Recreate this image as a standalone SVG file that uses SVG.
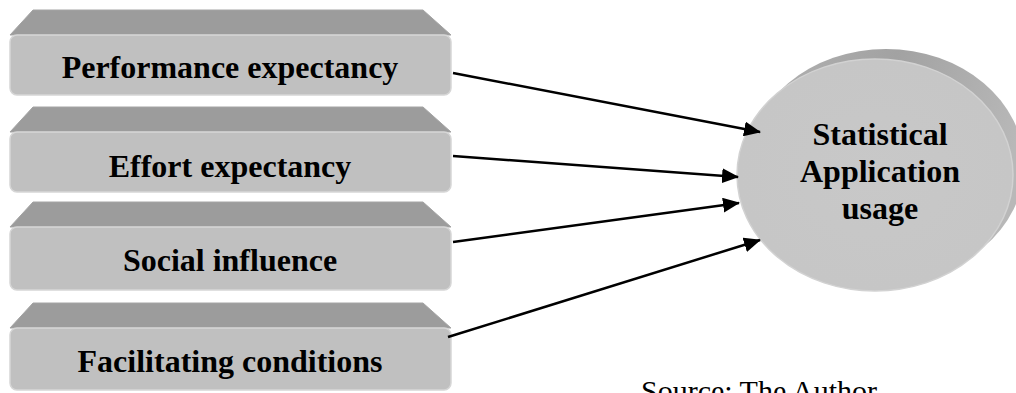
<svg xmlns="http://www.w3.org/2000/svg" width="1016" height="393" viewBox="0 0 1016 393">
  <style>
    .bevel { fill: #9c9c9c; stroke: #a4a4a4; stroke-width: 1; stroke-linejoin: round; }
    .face { fill: #c0c0c0; stroke: #d6d6d6; stroke-width: 1.5; }
    .lbl { font-family: "Liberation Serif", "Times New Roman", serif; font-weight: bold; font-size: 32px; fill: #000; text-anchor: middle; }
    .src { font-family: "Liberation Serif", "Times New Roman", serif; font-size: 30px; fill: #000; }
    .conn { stroke: #000; stroke-width: 2.5; fill: none; marker-end: url(#arrow); }
  </style>
  <defs>
    <marker id="arrow" markerUnits="userSpaceOnUse" markerWidth="17" markerHeight="15" refX="16" refY="7.5" orient="auto">
      <path d="M0,0 L17,7.5 L0,15 z" fill="#000"/>
    </marker>
    <linearGradient id="cylside" x1="0" y1="0" x2="1" y2="0.3">
      <stop offset="0" stop-color="#b4b4b4"/>
      <stop offset="0.5" stop-color="#a2a2a2"/>
      <stop offset="1" stop-color="#b8b8b8"/>
    </linearGradient>
    <radialGradient id="cylface" cx="0.5" cy="0.5" r="0.55">
      <stop offset="0" stop-color="#c8c8c8"/>
      <stop offset="0.9" stop-color="#c6c6c6"/>
      <stop offset="1" stop-color="#bdbdbd"/>
    </radialGradient>
  </defs>

  <g id="node-performance">
    <path class="bevel" d="M33,10 L423,10 L451,35 L10,35 Z"/>
    <rect class="face" x="10" y="35" width="441" height="60" rx="7"/>
    <text class="lbl" x="230" y="78">Performance expectancy</text>
  </g>

  <g id="node-effort">
    <path class="bevel" d="M33,107 L423,107 L451,132 L10,132 Z"/>
    <rect class="face" x="10" y="132" width="441" height="60" rx="7"/>
    <text class="lbl" x="230" y="177">Effort expectancy</text>
  </g>

  <g id="node-social">
    <path class="bevel" d="M33,202 L423,202 L451,227 L10,227 Z"/>
    <rect class="face" x="10" y="227" width="441" height="63" rx="7"/>
    <text class="lbl" x="230" y="271">Social influence</text>
  </g>

  <g id="node-facilitating">
    <path class="bevel" d="M33,303 L423,303 L451,328 L10,328 Z"/>
    <rect class="face" x="10" y="328" width="441" height="62" rx="7"/>
    <text class="lbl" x="230" y="372">Facilitating conditions</text>
  </g>

  <g id="node-usage">
    <ellipse cx="886" cy="165" rx="138" ry="116" fill="url(#cylside)"/>
    <ellipse cx="875" cy="175" rx="138" ry="116" fill="url(#cylface)" stroke="#d2d2d2" stroke-width="1.5"/>
    <text class="lbl" x="880" y="145">Statistical</text>
    <text class="lbl" x="880" y="182">Application</text>
    <text class="lbl" x="880" y="219">usage</text>
  </g>

  <g id="connectors">
    <line class="conn" x1="453" y1="73" x2="760" y2="132"/>
    <line class="conn" x1="453" y1="156" x2="738" y2="177"/>
    <line class="conn" x1="453" y1="242" x2="739" y2="203"/>
    <line class="conn" x1="448" y1="337" x2="760" y2="240"/>
  </g>

  <text class="src" x="641" y="401">Source: The Author</text>
</svg>
